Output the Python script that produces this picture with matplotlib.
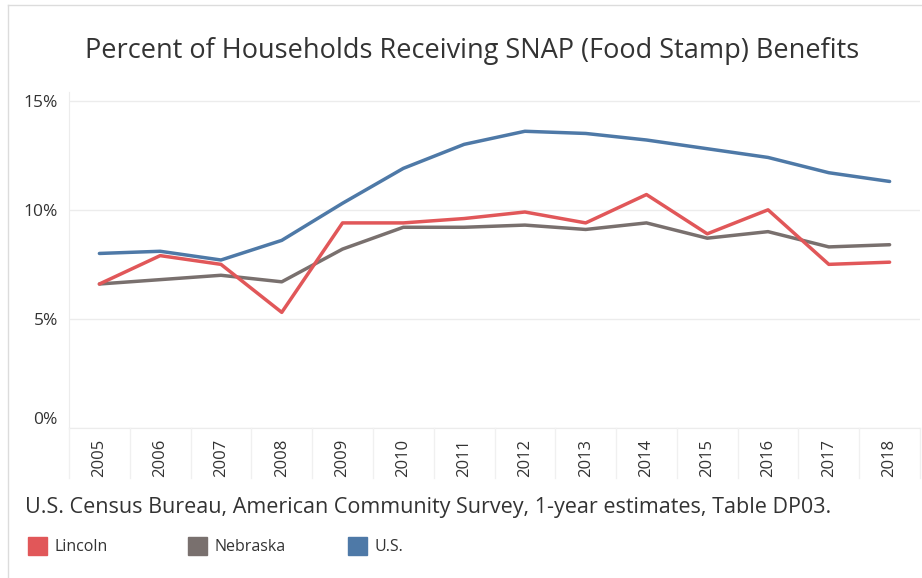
import matplotlib
matplotlib.use("Agg")
import matplotlib.pyplot as plt
import matplotlib.transforms as mtransforms
from matplotlib.lines import Line2D
from matplotlib.patches import Rectangle

years = list(range(2005, 2019))
lincoln = [6.6, 7.9, 7.5, 5.3, 9.4, 9.4, 9.6, 9.9, 9.4, 10.7, 8.9, 10.0, 7.5, 7.6]
nebraska = [6.6, 6.8, 7.0, 6.7, 8.2, 9.2, 9.2, 9.3, 9.1, 9.4, 8.7, 9.0, 8.3, 8.4]
us = [8.0, 8.1, 7.7, 8.6, 10.3, 11.9, 13.0, 13.6, 13.5, 13.2, 12.8, 12.4, 11.7, 11.3]
series_names = ["Lincoln", "Nebraska", "U.S."]
y_ticks = [0, 5, 10, 15]

COLORS = {"Lincoln": "#e15759", "Nebraska": "#79706e", "U.S.": "#4e79a7"}
FONT = "Open Sans"
TEXT = "#333333"
GRID = "#ececec"

W, H = 922, 578
fig = plt.figure(figsize=(W / 100, H / 100), dpi=100, facecolor="white")

# plot area in pixel coords -> figure fraction
x0, x1, y_top, y_bot = 69, 920, 92, 428
ax = fig.add_axes([x0 / W, 1 - y_bot / H, (x1 - x0) / W, (y_bot - y_top) / H])

for name, vals in zip(series_names, [lincoln, nebraska, us]):
    ax.plot(years, vals, color=COLORS[name], lw=2.5, solid_joinstyle="round",
            solid_capstyle="round", zorder=3 if name != "Nebraska" else 2)

ax.set_xlim(2004.5, 2018.5)
ax.set_ylim(0, 15.4)
ax.set_yticks(y_ticks)
ax.set_yticklabels([f"{v}%" for v in y_ticks], fontfamily=FONT, fontsize=12.5, color=TEXT)
ax.set_xticks(years)
ax.set_xticklabels([str(y) for y in years], rotation=90, fontfamily=FONT,
                   fontsize=12, color=TEXT)
ax.tick_params(axis="both", length=0)
ax.tick_params(axis="x", pad=8)
ax.tick_params(axis="y", pad=8)
ax.grid(axis="y", color=GRID, lw=1)
ax.set_axisbelow(True)
for side in ("top", "right"):
    ax.spines[side].set_visible(False)
ax.spines["left"].set_color(GRID)
ax.spines["bottom"].set_color(GRID)

# the 0% label sits a little above its gridline
zero_lbl = ax.get_yticklabels()[0]
zero_lbl.set_transform(zero_lbl.get_transform() +
                       mtransforms.ScaledTranslation(0, 10 / 100, fig.dpi_scale_trans))

# category separators below the axis
for b in range(len(years) + 1):
    xp = (x0 + b * (x1 - x0) / len(years)) / W
    fig.add_artist(Line2D([xp, xp], [1 - 428 / H, 1 - 478 / H],
                          color="#f0f0f0", lw=1))

# outer frame (left and top edges)
fig.add_artist(Line2D([8 / W, 8 / W], [0, 1 - 5 / H], color="#dcdcdc", lw=1))
fig.add_artist(Line2D([8 / W, 1], [1 - 5 / H, 1 - 5 / H], color="#dcdcdc", lw=1))

fig.text(472 / W, 1 - 51 / H,
         "Percent of Households Receiving SNAP (Food Stamp) Benefits",
         ha="center", va="center", fontfamily=FONT, fontsize=19.5, color=TEXT)

fig.text(25 / W, 1 - 508 / H,
         "U.S. Census Bureau, American Community Survey, 1-year estimates, Table DP03.",
         ha="left", va="center", fontfamily=FONT, fontsize=15.5, color=TEXT)

# legend
for name, lx in zip(series_names, [28, 188, 348]):
    fig.add_artist(Rectangle((lx / W, 1 - 555 / H), 19 / W, 18 / H,
                             transform=fig.transFigure, color=COLORS[name]))
    fig.text((lx + 26) / W, 1 - 547 / H, name, ha="left", va="center",
             fontfamily=FONT, fontsize=11.5, color=TEXT)

fig.savefig("out.png", dpi=100, facecolor="white")
